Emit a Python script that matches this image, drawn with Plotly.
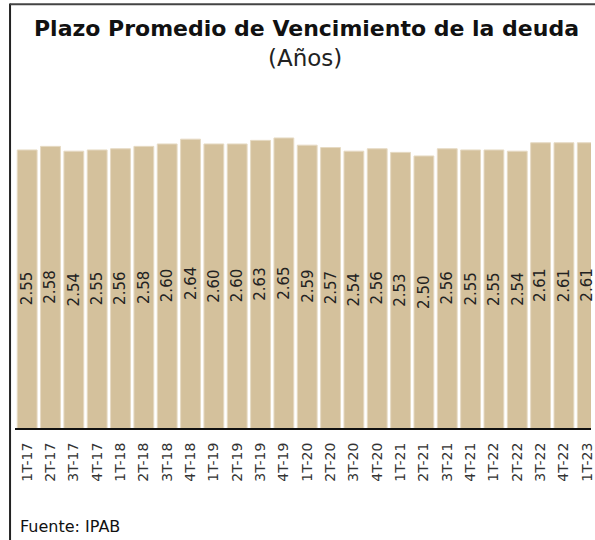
import plotly.graph_objects as go

categories = ["1T-17", "2T-17", "3T-17", "4T-17", "1T-18", "2T-18", "3T-18", "4T-18",
              "1T-19", "2T-19", "3T-19", "4T-19", "1T-20", "2T-20", "3T-20", "4T-20",
              "1T-21", "2T-21", "3T-21", "4T-21", "1T-22", "2T-22", "3T-22", "4T-22", "1T-23"]
values = [2.55, 2.58, 2.54, 2.55, 2.56, 2.58, 2.60, 2.64,
          2.60, 2.60, 2.63, 2.65, 2.59, 2.57, 2.54, 2.56,
          2.53, 2.50, 2.56, 2.55, 2.55, 2.54, 2.61, 2.61, 2.61]
labels = [f"{v:.2f}" for v in values]

FONT = "DejaVu Sans"
Y0, Y1 = 0.233, 3.133

fig = go.Figure(go.Bar(
    x=list(range(len(categories))), y=values,
    marker=dict(color="#D4C19C", line=dict(color="#E6DAC3", width=1)),
    hoverinfo="skip",
))

value_annotations = [
    dict(text=lab, x=i, y=(Y0 + v) / 2, xref="x", yref="y", textangle=-90,
         showarrow=False, xanchor="center", yanchor="middle",
         font=dict(family=FONT, size=15, color="#222222"))
    for i, (v, lab) in enumerate(zip(values, labels))
]

fig.update_layout(
    width=595, height=540,
    margin=dict(l=15, r=0, t=80, b=112),
    paper_bgcolor="white", plot_bgcolor="white",
    bargap=0.15, showlegend=False,
    font=dict(family=FONT, color="#222222"),
    xaxis=dict(tickmode="array", tickvals=list(range(len(categories))), ticktext=categories,
               range=[-0.521, 24.16], tickangle=-90, ticklabeloverflow="allow",
               tickfont=dict(family=FONT, size=14, color="#333333"),
               showline=True, linecolor="#111111", linewidth=2,
               ticks="outside", ticklen=7, tickcolor="rgba(0,0,0,0)",
               showgrid=False, zeroline=False),
    yaxis=dict(range=[Y0, Y1], visible=False, showgrid=False),
    shapes=[
        dict(type="line", xref="paper", yref="paper", x0=-0.0086, x1=-0.0086, y0=1.22, y1=-0.4,
             line=dict(color="#222222", width=2)),
        dict(type="line", xref="paper", yref="paper", x0=-0.0086, x1=1.05, y0=1.218, y1=1.218,
             line=dict(color="#444444", width=2)),
    ],
    annotations=value_annotations + [
        dict(text="<b>Plazo Promedio de Vencimiento de la deuda</b>", xref="paper", yref="paper",
             x=0.506, y=1.1466, xanchor="center", yanchor="middle", showarrow=False,
             font=dict(family=FONT, size=22, color="#111111")),
        dict(text="(Años)", xref="paper", yref="paper",
             x=0.503, y=1.063, xanchor="center", yanchor="middle", showarrow=False,
             font=dict(family=FONT, size=23, color="#222222")),
        dict(text="Fuente: IPAB", xref="paper", yref="paper",
             x=0.005, y=-0.284, xanchor="left", yanchor="middle", showarrow=False,
             font=dict(family=FONT, size=16, color="#111111")),
    ],
)

fig.write_html("out.html", post_script="document.body.style.margin='0';",
               config={"displayModeBar": False})
